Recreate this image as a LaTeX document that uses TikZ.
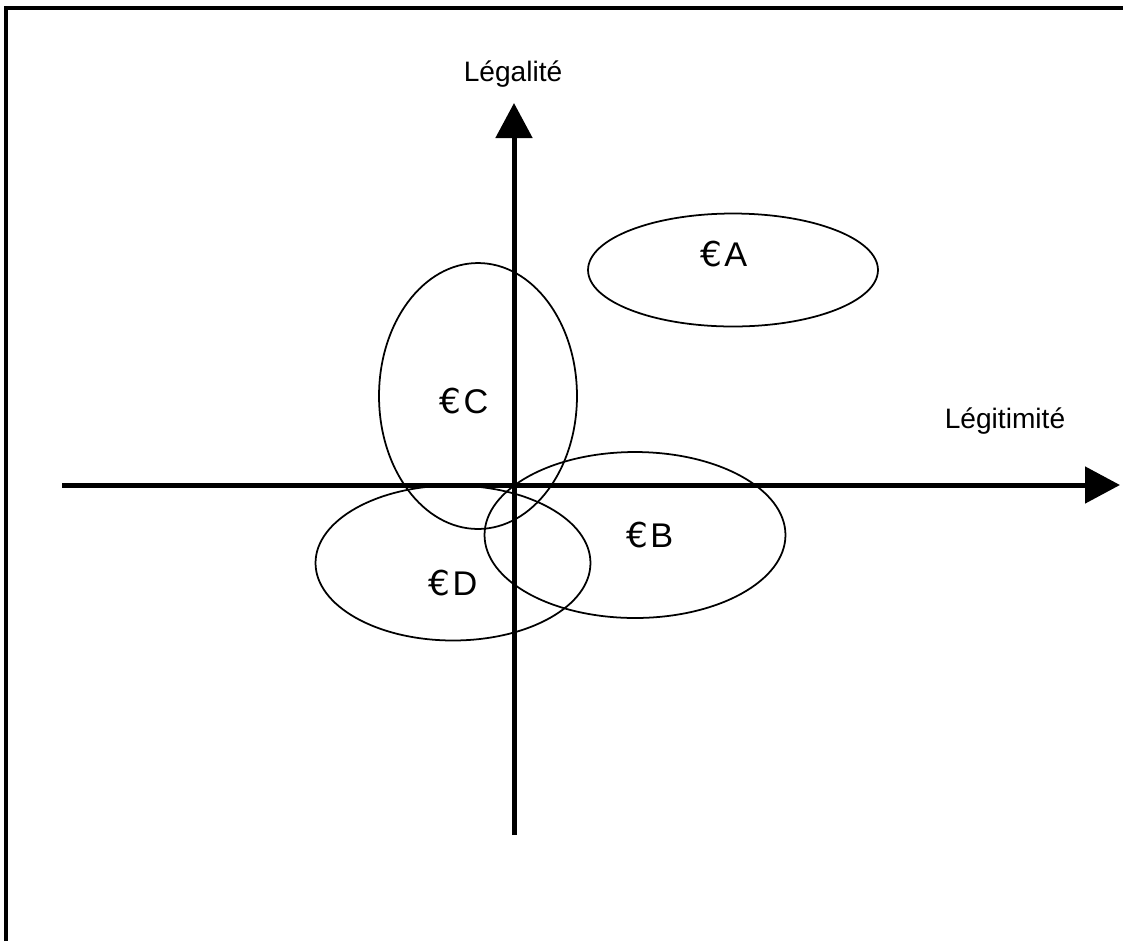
\documentclass[tikz,border=0pt]{standalone}
\usepackage{fontspec}
\setmainfont{Liberation Sans}
\newfontfamily\eurofont{DejaVu Sans}
\usetikzlibrary{shapes.geometric, arrows.meta}

\newcommand{\euro}{{\eurofont €}\kern0.04cm}

\begin{document}
\begin{tikzpicture}[
  x=0.02cm, y=-0.02cm,
  zone/.style={ellipse, draw, line width=1pt, inner sep=0pt},
  zonelabel/.style={anchor=base, font=\fontsize{19.5}{23}\selectfont},
  axislabel/.style={anchor=base, font=\fontsize{16}{19}\selectfont},
  axis/.style={-{Triangle[length=0.7cm, width=0.72cm]}, line width=0.1cm}
]
\useasboundingbox (0,0) rectangle (1123,941);

% frame
\draw[line width=0.07cm] (6,941) -- (6,8) -- (1123,8);

% axes
\coordinate (xstart) at (62,485);
\coordinate (xend) at (1120,485);
\coordinate (ystart) at (514,835);
\coordinate (yend) at (514,103);
\draw[axis] (xstart) -- (xend);
\draw[axis] (ystart) -- (yend);
\node[axislabel] (legalite) at (513,81) {Légalité};
\node[axislabel] (legitimite) at (1005,428) {Légitimité};

% zones
\node[zone, minimum width=5.8cm, minimum height=2.26cm] (zoneA) at (733,270) {};
\node[zone, minimum width=3.96cm, minimum height=5.32cm] (zoneC) at (478,396) {};
\node[zone, minimum width=6.02cm, minimum height=3.32cm] (zoneB) at (635,535) {};
\node[zone, minimum width=5.5cm, minimum height=3.1cm] (zoneD) at (453,563) {};

\node[zonelabel] (labelA) at (724,266) {\euro A};
\node[zonelabel] (labelC) at (464,413) {\euro C};
\node[zonelabel] (labelB) at (650,547) {\euro B};
\node[zonelabel] (labelD) at (453,595) {\euro D};

\end{tikzpicture}
\end{document}
